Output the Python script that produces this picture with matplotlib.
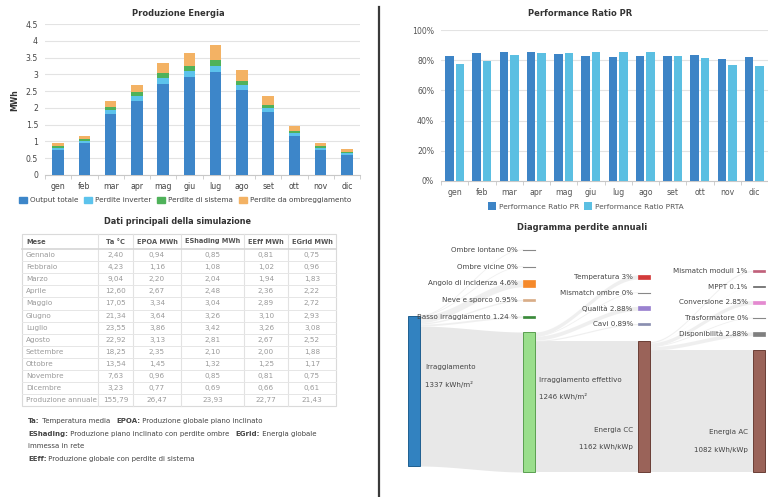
import numpy as np
import matplotlib.pyplot as plt
from matplotlib.patches import Rectangle

W, H = 768, 497

# monthly data (from the simulation table)
months_short = ['gen', 'feb', 'mar', 'apr', 'mag', 'giu', 'lug', 'ago', 'set', 'ott', 'nov', 'dic']
months_long = ['Gennaio', 'Febbraio', 'Marzo', 'Aprile', 'Maggio', 'Giugno', 'Luglio',
               'Agosto', 'Settembre', 'Ottobre', 'Novembre', 'Dicembre']
ta = [2.40, 4.23, 9.04, 12.60, 17.05, 21.34, 23.55, 22.92, 18.25, 13.54, 7.63, 3.23]
epoa = [0.94, 1.16, 2.20, 2.67, 3.34, 3.64, 3.86, 3.13, 2.35, 1.45, 0.96, 0.77]
eshading = [0.85, 1.08, 2.04, 2.48, 3.04, 3.26, 3.42, 2.81, 2.10, 1.32, 0.85, 0.69]
eeff = [0.81, 1.02, 1.94, 2.36, 2.89, 3.10, 3.26, 2.67, 2.00, 1.25, 0.81, 0.66]
egrid = [0.75, 0.96, 1.83, 2.22, 2.72, 2.93, 3.08, 2.52, 1.88, 1.17, 0.75, 0.61]
annual_label = 'Produzione annuale'
annual = [155.79, 26.47, 23.93, 22.77, 21.43]
table_header = ['Mese', 'Ta °C', 'EPOA MWh', 'EShading MWh', 'EEff MWh', 'EGrid MWh']

# performance ratio (%)
pr = [83.0, 84.8, 85.7, 85.7, 83.9, 83.0, 81.9, 83.0, 82.6, 83.5, 81.0, 81.9]
prta = [77.3, 79.7, 83.5, 84.8, 84.8, 85.2, 85.2, 85.2, 83.0, 81.5, 77.1, 76.4]

# loss diagram
node_names = ['Irraggiamento', 'Irraggiamento effettivo', 'Energia CC', 'Energia AC']
node_values = [1337, 1246, 1162, 1082]
node_units = ['kWh/m²', 'kWh/m²', 'kWh/kWp', 'kWh/kWp']
node_colors = ['#3282c0', '#9ade8c', '#9a6359', '#9a6359']
node_edges = ['#1f5f90', '#5a9f50', '#6a3e36', '#6a3e36']
loss_labels = [
    ['Ombre lontane 0%', 'Ombre vicine 0%', 'Angolo di incidenza 4.6%', 'Neve e sporco 0.95%', 'Basso irraggiamento 1.24 %'],
    ['Temperatura 3%', 'Mismatch ombre 0%', 'Qualità 2.88%', 'Cavi 0.89%'],
    ['Mismatch moduli 1%', 'MPPT 0.1%', 'Conversione 2.85%', 'Trasformatore 0%', 'Disponibilità 2.88%'],
]
loss_pct = [
    [0, 0, 4.6, 0.95, 1.24],
    [3, 0, 2.88, 0.89],
    [1, 0.1, 2.85, 0, 2.88],
]
loss_colors = [
    ['#888888', '#888888', '#f5892a', '#d9ad88', '#3a8a3a'],
    ['#d33a3a', '#888888', '#9a82d0', '#8a8fb0'],
    ['#c0607a', '#666666', '#e48ad0', '#888888', '#7f7f7f'],
]

TXT = '#444444'


def fig_rect(x0, y0, x1, y1):
    return [x0 / W, 1 - y1 / H, (x1 - x0) / W, (y1 - y0) / H]


def fmt(v):
    return '{:.2f}'.format(v).replace('.', ',')


fig = plt.figure(figsize=(W / 100, H / 100), dpi=100)
fig.patch.set_facecolor('white')

bg = fig.add_axes([0, 0, 1, 1])
bg.set_xlim(0, W)
bg.set_ylim(H, 0)
bg.axis('off')

# divider
bg.plot([378.5, 378.5], [7, 497], color='#3a3a3a', lw=1.6)

# ---------------- Produzione Energia ----------------
ax1 = fig.add_axes(fig_rect(45, 24, 360, 175))
x = np.arange(12)
out = np.array(egrid)
inv = np.array(eeff) - out
sis = np.array(eshading) - np.array(eeff)
omb = np.array(epoa) - np.array(eshading)
cols1 = ['#3d86c9', '#5cc3ec', '#4fb25a', '#f3b264']
names1 = ['Output totale', 'Perdite inverter', 'Perdite di sistema', 'Perdite da ombreggiamento']
bottom = np.zeros(12)
for seg, c in zip([out, inv, sis, omb], cols1):
    ax1.bar(x, seg, 0.44, bottom=bottom, color=c, zorder=3)
    bottom = bottom + seg
ax1.set_xlim(-0.5, 11.5)
ax1.set_ylim(0, 4.5)
ax1.set_yticks(np.arange(0, 4.51, 0.5))
ax1.set_yticklabels(['{:g}'.format(v) for v in np.arange(0, 4.51, 0.5)])
ax1.set_xticks(x)
ax1.set_xticklabels(months_short)
ax1.set_xticks(np.arange(-0.5, 12, 1), minor=True)
ax1.grid(axis='y', color='#e3e3e3', lw=0.8, zorder=0)
for s in ['top', 'right', 'left']:
    ax1.spines[s].set_visible(False)
ax1.spines['bottom'].set_color('#c8c8c8')
ax1.tick_params(axis='both', which='major', labelsize=5.6, colors=TXT, length=0, pad=5)
ax1.tick_params(axis='x', which='minor', length=3, color='#c8c8c8')
fig.text(178 / W, 1 - 13 / H, 'Produzione Energia', ha='center', va='center',
         fontsize=6, fontweight='bold', color='#333333')
fig.text(15 / W, 1 - 100 / H, 'MWh', ha='center', va='center', rotation=90,
         fontsize=5.6, fontweight='bold', color='#333333')
h1 = [Rectangle((0, 0), 1, 1, color=c) for c in cols1]
fig.legend(h1, names1, loc='center', bbox_to_anchor=(185 / W, 1 - 200 / H), ncol=4,
           frameon=False, fontsize=5.2, handlelength=1.1, handleheight=1.1,
           columnspacing=0.8, handletextpad=0.4, labelcolor=TXT)

# ---------------- Performance Ratio ----------------
ax2 = fig.add_axes(fig_rect(441, 30, 768, 181))
ax2.bar(x - 0.19, pr, 0.31, color='#3d84c6', zorder=3, label='Performance Ratio PR')
ax2.bar(x + 0.19, prta, 0.31, color='#5bbfe2', zorder=3, label='Performance Ratio PRTA')
ax2.set_xlim(-0.5, 11.5)
ax2.set_ylim(0, 100)
ax2.set_yticks(np.arange(0, 101, 20))
ax2.set_yticklabels(['{}%'.format(v) for v in range(0, 101, 20)])
ax2.set_xticks(x)
ax2.set_xticklabels(months_short)
ax2.set_xticks(np.arange(-0.5, 12, 1), minor=True)
ax2.grid(axis='y', color='#e3e3e3', lw=0.8, zorder=0)
for s in ['top', 'right', 'left']:
    ax2.spines[s].set_visible(False)
ax2.spines['bottom'].set_color('#c8c8c8')
ax2.tick_params(axis='both', which='major', labelsize=5.6, colors='#555555', length=0, pad=5)
ax2.tick_params(axis='x', which='minor', length=3, color='#c8c8c8')
fig.text(580 / W, 1 - 13 / H, 'Performance Ratio PR', ha='center', va='center',
         fontsize=6, fontweight='bold', color='#333333')
fig.legend(*ax2.get_legend_handles_labels(), loc='center', bbox_to_anchor=(586 / W, 1 - 206 / H),
           ncol=2, frameon=False, fontsize=5.3, handlelength=1.1, handleheight=1.1,
           columnspacing=0.6, handletextpad=0.4, labelcolor='#555555')

# ---------------- table ----------------
bg.text(178, 221, 'Dati principali della simulazione', ha='center', va='center',
        fontsize=5.9, fontweight='bold', color='#333333')
col_x = [22, 98, 133, 181, 244, 288, 336]
top, head_h, row_h = 234, 15, 12.1
rows = [[m, fmt(a), fmt(b), fmt(c), fmt(d), fmt(e)]
        for m, a, b, c, d, e in zip(months_long, ta, epoa, eshading, eeff, egrid)]
rows.append([annual_label] + [fmt(v) for v in annual])
n = len(rows)
bottom_y = top + head_h + n * row_h
bg.add_patch(Rectangle((col_x[0], top), col_x[-1] - col_x[0], bottom_y - top,
                       fill=False, edgecolor='#dadada', lw=0.8))
for cx in col_x[1:-1]:
    bg.plot([cx, cx], [top, bottom_y], color='#e2e2e2', lw=0.8)
bg.plot([col_x[0], col_x[-1]], [top + head_h, top + head_h], color='#d6d6d6', lw=1.2)
for i in range(1, n):
    yy = top + head_h + i * row_h
    bg.plot([col_x[0], col_x[-1]], [yy, yy], color='#e6e6e6', lw=0.7)
for j, hd in enumerate(table_header):
    if j == 0:
        bg.text(col_x[0] + 4, top + head_h / 2, hd, ha='left', va='center',
                fontsize=4.8, fontweight='bold', color='#555555')
    else:
        bg.text((col_x[j] + col_x[j + 1]) / 2, top + head_h / 2, hd, ha='center', va='center',
                fontsize=4.8, fontweight='bold', color='#555555')
for i, r in enumerate(rows):
    yy = top + head_h + (i + 0.5) * row_h
    bg.text(col_x[0] + 4, yy, r[0], ha='left', va='center', fontsize=5.2, color='#9a9a9a')
    for j in range(1, 6):
        bg.text((col_x[j] + col_x[j + 1]) / 2, yy, r[j], ha='center', va='center',
                fontsize=5.2, color='#9a9a9a')

# footnotes
notes = [
    (421, [('Ta:', True), (' Temperatura media   ', False), ('EPOA:', True), (' Produzione globale piano inclinato', False)]),
    (434, [('EShading:', True), (' Produzione piano inclinato con perdite ombre   ', False), ('EGrid:', True), (' Energia globale', False)]),
    (446, [('immessa in rete', False)]),
    (459, [('EEff:', True), (' Produzione globale con perdite di sistema', False)]),
]
for yy, parts in notes:
    prev = None
    for s, b in parts:
        kw = dict(fontsize=5.0, color=TXT, fontweight='bold' if b else 'normal', va='center')
        if prev is None:
            prev = bg.text(28, yy, s, ha='left', **kw)
        else:
            prev = bg.annotate(s, xy=(1, 0.5), xycoords=prev, ha='left', **kw)

# ---------------- loss diagram ----------------
K = 8.9          # kWh per pixel
BASE = 472       # pixel row of zero
NW = 0.1
axs = fig.add_axes(fig_rect(385, 235, 768, 490))
axs.set_xlim((385 - 408) / 115, (768 - 408) / 115)
axs.set_ylim(-(490 - BASE) * K, (BASE - 235) * K)
axs.axis('off')


def py(px):
    return (BASE - px) * K


def band(x0, x1, a0, a1, b0, b1, **kw):
    t = np.linspace(0, 1, 60)
    s = 3 * t ** 2 - 2 * t ** 3
    xx = x0 + (x1 - x0) * t
    axs.fill_between(xx, a0 + (b0 - a0) * s, a1 + (b1 - a1) * s, lw=0, **kw)


node_bottom = [6 * K, 0, 0, 0]
fig.text(582 / W, 1 - 228 / H, 'Diagramma perdite annuali', ha='center', va='center',
         fontsize=6, fontweight='bold', color='#333333')

loss_start = [250, 277, 271]
loss_step = [16.7, 15.7, 15.7]
for i in range(3):
    b0 = node_bottom[i]
    # main flow
    band(i + NW, i + 1, b0, b0 + node_values[i + 1], node_bottom[i + 1],
         node_bottom[i + 1] + node_values[i + 1], color='#e8e8e8', zorder=1)
    # losses
    src_top = b0 + node_values[i]
    for k, (lab, p, c) in enumerate(zip(loss_labels[i], loss_pct[i], loss_colors[i])):
        h = p / 100 * node_values[i]
        cy = py(loss_start[i] + k * loss_step[i])
        band(i + NW, i + 1, src_top - h, src_top, cy - h / 2, cy + h / 2,
             color='#ececec', alpha=0.8, zorder=1)
        if p == 0:
            t = np.linspace(0, 1, 60)
            s = 3 * t ** 2 - 2 * t ** 3
            axs.plot(i + NW + (1 - NW) * t, src_top + (cy - src_top) * s,
                     color='#f0f0f0', lw=0.6, zorder=1)
            axs.plot([i + 1, i + 1 + NW], [cy, cy], color=c, lw=0.8, zorder=3)
        else:
            hh = max(h, 1.2 * K)
            axs.add_patch(Rectangle((i + 1, cy - hh / 2), NW, hh, facecolor=c,
                                    edgecolor=c, lw=0.5, zorder=3))
        src_top -= h
        axs.text(i + 1 - 0.045, cy, lab, ha='right', va='center', fontsize=5.1, color=TXT, zorder=4)

for i in range(4):
    axs.add_patch(Rectangle((i, node_bottom[i]), NW, node_values[i], facecolor=node_colors[i],
                            edgecolor=node_edges[i], lw=0.7, zorder=3))

label_pos = [(0.148, 367, 385, 'left'), (1.139, 380, 397, 'left'),
             (1.957, 430, 447, 'right'), (2.957, 432, 450, 'right')]
for (lx, y1, y2, ha), nm, v, u in zip(label_pos, node_names, node_values, node_units):
    axs.text(lx, py(y1), nm, ha=ha, va='center', fontsize=5.1, color=TXT, zorder=4)
    axs.text(lx, py(y2), '{} {}'.format(v, u), ha=ha, va='center', fontsize=5.1, color=TXT, zorder=4)

fig.savefig('out.png', dpi=100, facecolor='white')
